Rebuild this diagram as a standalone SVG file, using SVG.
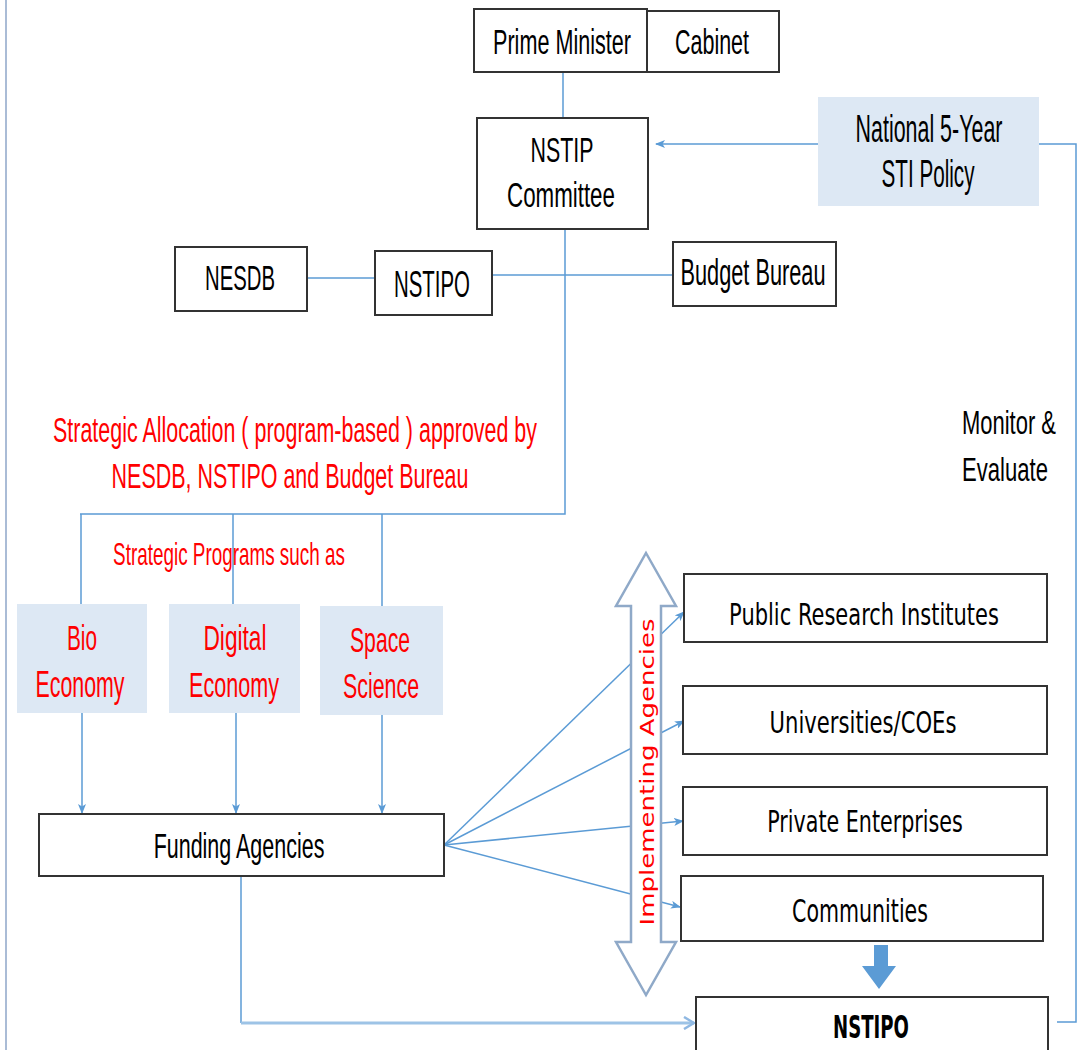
<svg xmlns="http://www.w3.org/2000/svg" width="1077" height="1050" viewBox="0 0 1077 1050">
<defs>
<marker id="ah" markerWidth="10" markerHeight="8" refX="9" refY="4" orient="auto" markerUnits="userSpaceOnUse">
<path d="M0,0 L10,4 L0,8 L2.5,4 Z" fill="#5b9bd5"/>
</marker>
<marker id="open" markerWidth="12" markerHeight="14" refX="11" refY="7" orient="auto" markerUnits="userSpaceOnUse">
<path d="M1,1 L11,7 L1,13" fill="none" stroke="#8fb8e2" stroke-width="2.5"/>
</marker>
</defs>
<style>
.box{fill:#ffffff;stroke:#333333;stroke-width:2}
.pbox{fill:#dde8f4;stroke:none}
.lbl{font-family:"Liberation Sans",Arial,sans-serif;fill:#000000;text-anchor:middle}
.st{text-anchor:start}
.tah{font-family:"DejaVu Sans","Liberation Sans",sans-serif;fill:#000000;text-anchor:middle}
.red{fill:#ff0000}
.ln{fill:none;stroke:#5b9bd5;stroke-width:1.5}
.lnt{fill:none;stroke:#9dc3e6;stroke-width:3}
.frame{fill:none;stroke:#8ea6c8;stroke-width:1.5}
</style>
<rect x="0" y="0" width="1077" height="1050" fill="#ffffff"/>
<line class="frame" x1="6" y1="0" x2="6" y2="1050"/>

<g id="connectors">
<line class="ln" x1="563" y1="72" x2="563" y2="118"/>
<line class="ln" x1="818" y1="144" x2="656" y2="144" marker-end="url(#ah)"/>
<polyline class="ln" points="1039,144 1076,144 1076,1022 1057,1022"/>
<line class="ln" x1="307" y1="278" x2="375" y2="278" stroke-width="2.5" stroke="#7fb0de"/>
<line class="ln" x1="492" y1="275" x2="673" y2="275" stroke-width="2"/>
<polyline class="ln" points="565,229 565,514 80,514"/>
<line class="ln" x1="81" y1="514" x2="81" y2="605"/>
<line class="ln" x1="233" y1="514" x2="233" y2="606"/>
<line class="ln" x1="382" y1="514" x2="382" y2="608"/>
<line class="ln" x1="82" y1="713" x2="82" y2="813" marker-end="url(#ah)"/>
<line class="ln" x1="236" y1="713" x2="236" y2="813" marker-end="url(#ah)"/>
<line class="ln" x1="382" y1="715" x2="382" y2="813" marker-end="url(#ah)"/>
<line class="ln" x1="444" y1="845" x2="684" y2="612" marker-end="url(#ah)"/>
<line class="ln" x1="444" y1="845" x2="684" y2="721" marker-end="url(#ah)"/>
<line class="ln" x1="444" y1="845" x2="683" y2="821" marker-end="url(#ah)"/>
<line class="ln" x1="444" y1="845" x2="680" y2="907" marker-end="url(#ah)"/>
<polyline class="ln" points="241,876 241,1023"/>
<line class="lnt" x1="241" y1="1023" x2="694" y2="1023" marker-end="url(#open)"/>
</g>

<g id="implementing-arrow">
<polygon points="646,553 676,606 661,606 661,942 676,942 646,995 616,942 631,942 631,606 616,606" fill="#ffffff" stroke="#8fa9c8" stroke-width="2.5" stroke-linejoin="miter"/>
<text transform="translate(654,772) rotate(-90) scale(1.3,1)" class="tah red" font-size="20">Implementing Agencies</text>
</g>

<g id="prime-minister">
<rect class="box" x="474" y="9" width="173" height="63"/>
<text class="lbl" transform="translate(562,54) scale(0.617,1)" font-size="35">Prime Minister</text>
</g>
<g id="cabinet">
<rect class="box" x="647" y="11" width="132" height="61"/>
<text class="lbl" transform="translate(712,54) scale(0.614,1)" font-size="35">Cabinet</text>
</g>
<g id="nstip-committee">
<rect class="box" x="477" y="118" width="171" height="111"/>
<text class="lbl" transform="translate(562,162) scale(0.611,1)" font-size="35">NSTIP</text>
<text class="lbl" transform="translate(561,207) scale(0.638,1)" font-size="35">Committee</text>
</g>
<g id="sti-policy">
<rect class="pbox" x="818" y="97" width="221" height="109"/>
<text class="lbl" transform="translate(929,142) scale(0.564,1)" font-size="38">National 5-Year</text>
<text class="lbl" transform="translate(928,187) scale(0.544,1)" font-size="38">STI Policy</text>
</g>
<g id="nesdb">
<rect class="box" x="175" y="247" width="132" height="64"/>
<text class="lbl" transform="translate(240,290) scale(0.564,1)" font-size="36">NESDB</text>
</g>
<g id="nstipo-top">
<rect class="box" x="375" y="251" width="117" height="64"/>
<text class="lbl" transform="translate(432,297) scale(0.567,1)" font-size="36">NSTIPO</text>
</g>
<g id="budget-bureau">
<rect class="box" x="673" y="242" width="163" height="64"/>
<text class="lbl" transform="translate(753,285) scale(0.604,1)" font-size="36">Budget Bureau</text>
</g>

<g id="allocation-label">
<text class="lbl red" transform="translate(295,442) scale(0.596,1)" font-size="36">Strategic Allocation ( program-based ) approved by</text>
<text class="lbl red" transform="translate(290,488) scale(0.597,1)" font-size="36">NESDB, NSTIPO and Budget Bureau</text>
</g>
<g id="programs-label">
<text class="lbl red" transform="translate(229,565) scale(0.609,1)" font-size="31">Strategic Programs such as</text>
</g>

<g id="bio-economy">
<rect class="pbox" x="17" y="604" width="130" height="109"/>
<text class="lbl red" transform="translate(82,650) scale(0.577,1)" font-size="36">Bio</text>
<text class="lbl red" transform="translate(80,697) scale(0.593,1)" font-size="36">Economy</text>
</g>
<g id="digital-economy">
<rect class="pbox" x="169" y="604" width="131" height="109"/>
<text class="lbl red" transform="translate(235,650) scale(0.63,1)" font-size="36">Digital</text>
<text class="lbl red" transform="translate(234,697) scale(0.6,1)" font-size="36">Economy</text>
</g>
<g id="space-science">
<rect class="pbox" x="320" y="606" width="123" height="109"/>
<text class="lbl red" transform="translate(380,652) scale(0.588,1)" font-size="36">Space</text>
<text class="lbl red" transform="translate(381,698) scale(0.594,1)" font-size="36">Science</text>
</g>
<g id="funding-agencies">
<rect class="box" x="39" y="814" width="405" height="62"/>
<text class="lbl" transform="translate(239,858) scale(0.597,1)" font-size="36">Funding Agencies</text>
</g>

<g id="monitor-label">
<text class="lbl st" transform="translate(962,434) scale(0.646,1)" font-size="34">Monitor &amp;</text>
<text class="lbl st" transform="translate(962,481) scale(0.65,1)" font-size="34">Evaluate</text>
</g>

<g id="public-research">
<rect class="box" x="684" y="574" width="363" height="68"/>
<text class="tah" transform="translate(864,625) scale(0.70,1)" font-size="30">Public Research Institutes</text>
</g>
<g id="universities">
<rect class="box" x="683" y="686" width="364" height="68"/>
<text class="tah" transform="translate(863,733) scale(0.705,1)" font-size="30">Universities/COEs</text>
</g>
<g id="private-enterprises">
<rect class="box" x="683" y="787" width="364" height="68"/>
<text class="tah" transform="translate(865,832) scale(0.689,1)" font-size="30">Private Enterprises</text>
</g>
<g id="communities">
<rect class="box" x="681" y="876" width="362" height="65"/>
<text class="tah" transform="translate(860,922) scale(0.643,1)" font-size="32">Communities</text>
</g>
<g id="down-arrow">
<polygon points="874,945 888,945 888,966 896,966 879,989 862,966 874,966" fill="#5b9bd5"/>
</g>
<g id="nstipo-bottom">
<rect class="box" x="696" y="997" width="352" height="63"/>
<text class="tah" transform="translate(871,1038) scale(0.566,1)" font-size="32" font-weight="bold">NSTIPO</text>
</g>
</svg>
